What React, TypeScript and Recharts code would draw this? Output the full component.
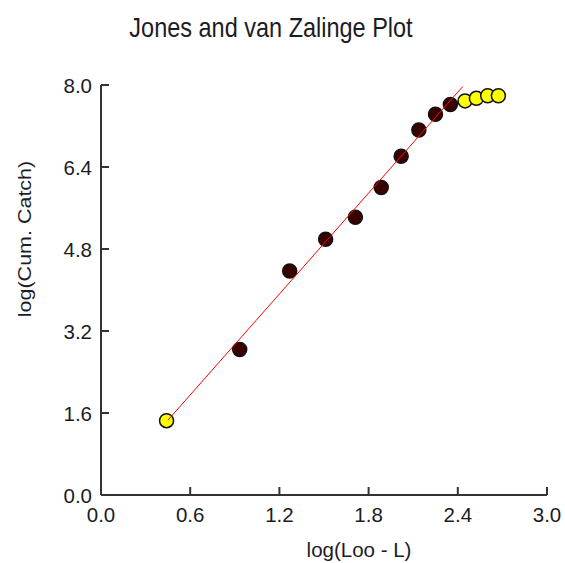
import { Scatter, ScatterChart, XAxis, YAxis } from 'recharts';

const xTicks = [0, 0.6, 1.2, 1.8, 2.4, 3.0];
const yTicks = [0, 1.6, 3.2, 4.8, 6.4, 8.0];

// points used in the fit (dark) and excluded ones (yellow)
const usedX = [0.933, 1.269, 1.511, 1.711, 1.885, 2.019, 2.138, 2.25, 2.35];
const usedY = [2.84, 4.37, 4.99, 5.42, 6.0, 6.61, 7.12, 7.43, 7.62];
const skipX = [0.441, 2.449, 2.525, 2.601, 2.673];
const skipY = [1.45, 7.69, 7.74, 7.79, 7.79];
const fitX = [0.45, 2.433];
const fitY = [1.46, 7.97];

const used = usedX.map((x, i) => ({ x, y: usedY[i] }));
const skipped = skipX.map((x, i) => ({ x, y: skipY[i] }));
const fit = fitX.map((x, i) => ({ x, y: fitY[i] }));

const font = '"Liberation Sans", Arial, sans-serif';
const ink = '#1c1c24';

function XTick({ x, y, payload }: any) {
  return (
    <g>
      <line x1={x} y1={y} x2={x} y2={y - 8} stroke="#333" strokeWidth={2} />
      <text x={x} y={y + 27} textAnchor="middle" fontSize={20.5} fontFamily={font} fill={ink}>
        {payload.value.toFixed(1)}
      </text>
    </g>
  );
}

function YTick({ x, y, payload }: any) {
  return (
    <g>
      <line x1={x} y1={y} x2={x + 8} y2={y} stroke="#333" strokeWidth={2} />
      <text x={x - 9} y={y + 7.5} textAnchor="end" fontSize={20.5} fontFamily={font} fill={ink}>
        {payload.value.toFixed(1)}
      </text>
    </g>
  );
}

export default function App() {
  return (
    <div style={{ position: 'absolute', left: 0, top: 0, width: 565, height: 563, background: '#fff' }}>
      <ScatterChart width={565} height={563} margin={{ top: 85, right: 18, bottom: 0, left: 41 }}>
        <text
          transform="translate(271,37) scale(1,1.2)"
          textAnchor="middle"
          fontSize={23.5}
          fontFamily={font}
          fill={ink}
        >
          Jones and van Zalinge Plot
        </text>
        <text
          transform="translate(31,239) rotate(-90) scale(1,0.83)"
          textAnchor="middle"
          fontSize={21.5}
          fontFamily={font}
          fill={ink}
        >
          log(Cum. Catch)
        </text>
        <text x={359} y={557} textAnchor="middle" fontSize={20.5} fontFamily={font} fill={ink}>
          log(Loo - L)
        </text>
        <XAxis
          type="number"
          dataKey="x"
          domain={[0, 3]}
          ticks={xTicks}
          height={68}
          tickSize={0}
          tickMargin={0}
          tick={<XTick />}
          axisLine={{ stroke: '#333', strokeWidth: 2 }}
          tickLine={false}
          interval={0}
        />
        <YAxis
          type="number"
          dataKey="y"
          domain={[0, 8]}
          ticks={yTicks}
          width={60}
          tickSize={0}
          tickMargin={0}
          tick={<YTick />}
          axisLine={{ stroke: '#333', strokeWidth: 2 }}
          tickLine={false}
          interval={0}
        />
        <Scatter
          data={skipped}
          fill="#ffff00"
          shape={(p: any) => <circle cx={p.cx} cy={p.cy} r={7} fill="#ffff00" stroke="#111" strokeWidth={1.5} />}
          isAnimationActive={false}
        />
        <Scatter
          data={used}
          fill="#3a0000"
          shape={(p: any) => <circle cx={p.cx} cy={p.cy} r={7} fill="#3a0000" stroke="#111" strokeWidth={1.5} />}
          isAnimationActive={false}
        />
        <Scatter
          data={fit}
          line={{ stroke: '#ff0000', strokeWidth: 1 }}
          shape={() => null}
          isAnimationActive={false}
        />
      </ScatterChart>
    </div>
  );
}
